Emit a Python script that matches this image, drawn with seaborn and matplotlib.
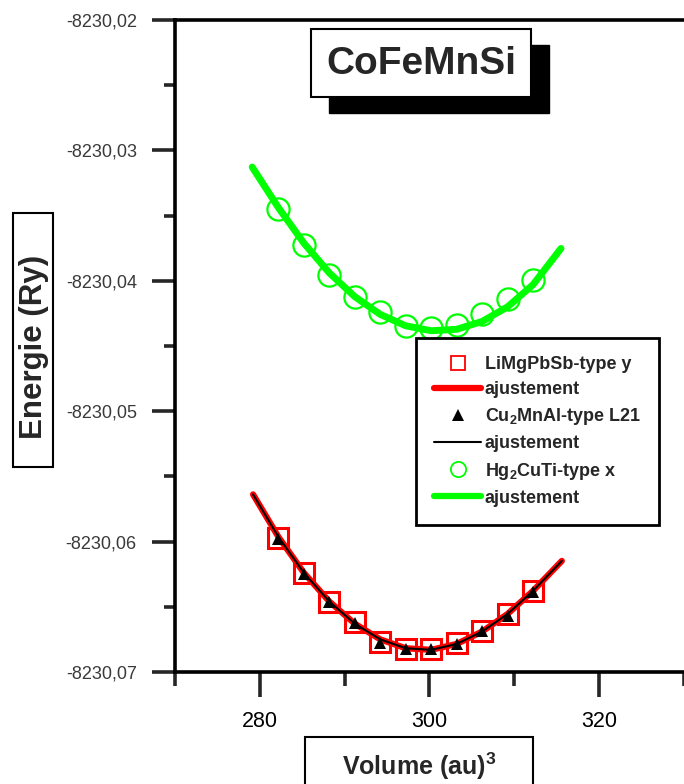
import matplotlib
matplotlib.use("Agg")
import matplotlib.pyplot as plt
import seaborn as sns
import pandas as pd
from matplotlib.patches import Rectangle
from matplotlib.lines import Line2D
from matplotlib.ticker import FixedLocator, FixedFormatter

# ---------------- data ----------------
volume = [282.2, 285.2, 288.2, 291.2, 294.2, 297.2, 300.2, 303.2, 306.2, 309.2, 312.2]

energy_limgpbsb = [-8230.05969, -8230.06244, -8230.06462, -8230.06615, -8230.06769, -8230.06821,
                   -8230.06825, -8230.06775, -8230.06685, -8230.06559, -8230.06379]
energy_cu2mnal = [-8230.05979, -8230.06252, -8230.06462, -8230.06621, -8230.06775, -8230.06821,
                  -8230.06821, -8230.06782, -8230.06687, -8230.06569, -8230.06390]
energy_hg2cuti = [-8230.03448, -8230.03725, -8230.03954, -8230.04123, -8230.04236, -8230.04346,
                  -8230.04359, -8230.04338, -8230.04256, -8230.04136, -8230.03995]

fit_volume_low = [279.2, 282.2, 285.2, 288.2, 291.2, 294.2, 297.2, 300.2, 303.2, 306.2, 309.2, 312.2, 315.6]
fit_energy_low = [-8230.05638, -8230.05965, -8230.06240, -8230.06460, -8230.06630, -8230.06750, -8230.06818,
                  -8230.06830, -8230.06785, -8230.06690, -8230.06555, -8230.06378, -8230.06148]
fit_volume_high = [279.1, 282.2, 285.2, 288.2, 291.2, 294.2, 297.2, 300.2, 303.2, 306.2, 309.2, 312.2, 315.5]
fit_energy_high = [-8230.03128, -8230.03440, -8230.03712, -8230.03940, -8230.04122, -8230.04258, -8230.04345,
                   -8230.04383, -8230.04372, -8230.04312, -8230.04200, -8230.04030, -8230.03752]

labels = ["LiMgPbSb-type y", "ajustement", r"Cu$_{\mathbf{2}}$MnAl-type L21", "ajustement",
          r"Hg$_{\mathbf{2}}$CuTi-type x", "ajustement"]
title_text = "CoFeMnSi"
xlabel_text = r"Volume (au)$^{\mathbf{3}}$"
ylabel_text = "Energie (Ry)"

x_major = [280, 300, 320]
x_major_labels = ["280", "300", "320"]
x_minor = [270, 290, 310, 330]
y_major = [-8230.07, -8230.06, -8230.05, -8230.04, -8230.03, -8230.02]
y_major_labels = ["-8230,07", "-8230,06", "-8230,05", "-8230,04", "-8230,03", "-8230,02"]
y_minor = [-8230.065, -8230.055, -8230.045, -8230.035, -8230.025]

# ---------------- style ----------------
sns.set_style("white")
plt.rcParams["font.family"] = ["Liberation Sans", "DejaVu Sans"]
plt.rcParams["mathtext.fontset"] = "custom"
plt.rcParams["mathtext.rm"] = "Liberation Sans:bold"
plt.rcParams["mathtext.bf"] = "Liberation Sans:bold"
plt.rcParams["mathtext.it"] = "Liberation Sans:bold"

W, H = 684, 784
fig = plt.figure(figsize=(W / 100, H / 100), dpi=100)
L, T, B = 175, 20, 672
ax = fig.add_axes([L / W, 1 - B / H, 1 - L / W, (B - T) / H])

df_low = pd.DataFrame({"V": fit_volume_low, "E": fit_energy_low})
df_high = pd.DataFrame({"V": fit_volume_high, "E": fit_energy_high})
df_a = pd.DataFrame({"V": volume, "E": energy_limgpbsb})
df_b = pd.DataFrame({"V": volume, "E": energy_cu2mnal})
df_c = pd.DataFrame({"V": volume, "E": energy_hg2cuti})

red, green = "#ff0000", "#00ff00"

sns.lineplot(data=df_a, x="V", y="E", ax=ax, estimator=None, sort=False, linestyle="",
             marker="s", markersize=14, markerfacecolor="none", markeredgecolor=red,
             markeredgewidth=2.2, zorder=2)
sns.lineplot(data=df_low, x="V", y="E", ax=ax, estimator=None, sort=False, color=red,
             linewidth=4.5, solid_capstyle="round", zorder=3)
sns.lineplot(data=df_b, x="V", y="E", ax=ax, estimator=None, sort=False, linestyle="",
             marker="^", markersize=9, color="black", markeredgewidth=0, zorder=4)
sns.lineplot(data=df_low, x="V", y="E", ax=ax, estimator=None, sort=False, color="black",
             linewidth=1.5, zorder=5)
sns.lineplot(data=df_c, x="V", y="E", ax=ax, estimator=None, sort=False, linestyle="",
             marker="o", markersize=16, markerfacecolor="none", markeredgecolor=green,
             markeredgewidth=1.6, zorder=2)
sns.lineplot(data=df_high, x="V", y="E", ax=ax, estimator=None, sort=False, color=green,
             linewidth=5, solid_capstyle="round", zorder=3)

ax.set_xlim(270, 330)
ax.set_ylim(-8230.07, -8230.02)
ax.set_xlabel("")
ax.set_ylabel("")

ax.xaxis.set_major_locator(FixedLocator(x_major))
ax.xaxis.set_major_formatter(FixedFormatter(x_major_labels))
ax.xaxis.set_minor_locator(FixedLocator(x_minor))
ax.yaxis.set_major_locator(FixedLocator(y_major))
ax.yaxis.set_major_formatter(FixedFormatter(y_major_labels))
ax.yaxis.set_minor_locator(FixedLocator(y_minor))

for s in ["left", "bottom", "top"]:
    ax.spines[s].set_visible(True)
    ax.spines[s].set_linewidth(2.6)
    ax.spines[s].set_color("black")
ax.spines["right"].set_visible(False)

ax.tick_params(axis="y", which="major", direction="out", length=16.5, width=2.6, pad=11,
               labelsize=13, labelcolor="#3a3a3a", left=True)
ax.tick_params(axis="y", which="minor", direction="out", length=8, width=2.6, left=True)
ax.tick_params(axis="x", which="major", direction="out", length=18, width=2.6, pad=10,
               labelsize=15.5, labelcolor="black", bottom=True)
ax.tick_params(axis="x", which="minor", direction="out", length=10, width=2.6, bottom=True)
for t in ax.xaxis.get_minor_ticks() + ax.xaxis.get_major_ticks():
    t.tick1line.set_clip_on(False)

# legend
handles = [
    Line2D([], [], linestyle="", marker="s", markersize=10, markerfacecolor="none",
           markeredgecolor=red, markeredgewidth=1.3),
    Line2D([], [], color=red, linewidth=4.5),
    Line2D([], [], linestyle="", marker="^", markersize=9, color="black", markeredgewidth=0),
    Line2D([], [], color="black", linewidth=1.5),
    Line2D([], [], linestyle="", marker="o", markersize=11, markerfacecolor="none",
           markeredgecolor=green, markeredgewidth=1.3),
    Line2D([], [], color=green, linewidth=4.5),
]
leg = ax.legend(handles, labels, loc="upper left",
                bbox_to_anchor=((416 - L) / (W - L), 1 - (338 - T) / (B - T)),
                borderaxespad=0, frameon=True, fancybox=False, framealpha=1,
                edgecolor="black", prop={"weight": "bold", "size": 13},
                handlelength=2.6, handletextpad=0.2, labelspacing=0.45, borderpad=1.0)
leg.get_frame().set_linewidth(2)
leg.set_zorder(10)


def fig_rect(x0, y0, x1, y1, **kw):
    r = Rectangle((x0 / W, 1 - y1 / H), (x1 - x0) / W, (y1 - y0) / H,
                  transform=fig.transFigure, **kw)
    fig.add_artist(r)
    return r


# title box with shadow
fig_rect(329, 45, 549, 113, facecolor="black", edgecolor="black", zorder=5)
fig_rect(311, 29, 531, 97, facecolor="white", edgecolor="black", linewidth=1.5, zorder=6)
fig.text(421 / W, 1 - 64 / H, title_text, ha="center", va="center", fontsize=28,
         fontweight="bold", zorder=7)

# y label box
fig_rect(13, 213, 53, 467, facecolor="white", edgecolor="black", linewidth=1.5, zorder=6)
fig.text(34 / W, 1 - 347 / H, ylabel_text, ha="center", va="center", rotation=90,
         fontsize=22.5, fontweight="bold", zorder=7)

# x label box
fig_rect(305, 737, 533, 800, facecolor="white", edgecolor="black", linewidth=1.5, zorder=6)
fig.text(419 / W, 1 - 766 / H, xlabel_text, ha="center", va="center", fontsize=18,
         fontweight="bold", zorder=7)

fig.savefig("out.png", dpi=100)
